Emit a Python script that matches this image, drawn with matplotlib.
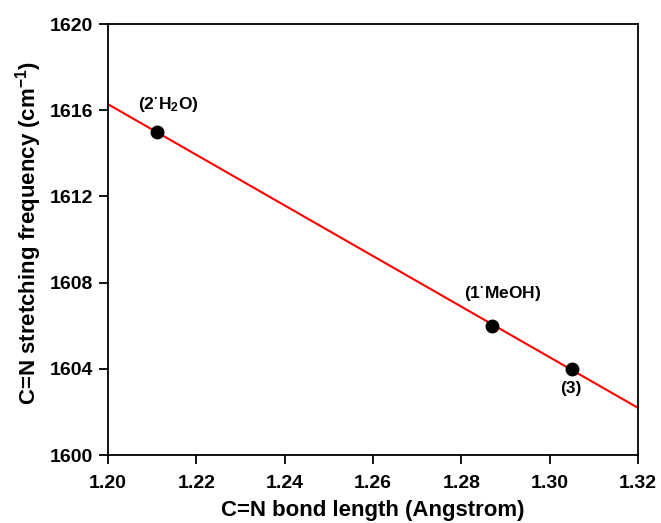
import numpy as np
import matplotlib
matplotlib.use("Agg")
import matplotlib.pyplot as plt

# data
bond_length = [1.211, 1.287, 1.305]
stretch_freq = [1615.0, 1606.0, 1604.0]
point_labels = ["(2$^{\u00b7}$H$_2$O)", "(1$^{\u00b7}$MeOH)", "(3)"]
label_pos = [(1.2136, 1616.25), (1.2894, 1607.5), (1.3048, 1603.1)]

xticks = [1.20, 1.22, 1.24, 1.26, 1.28, 1.30, 1.32]
yticks = [1600, 1604, 1608, 1612, 1616, 1620]

plt.rcParams["font.family"] = ["Liberation Sans", "DejaVu Sans"]
plt.rcParams["font.weight"] = "bold"
plt.rcParams["mathtext.default"] = "regular"

fig = plt.figure(figsize=(6.61, 5.23), dpi=100)
ax = fig.add_axes([0.1634, 0.130, 0.8018, 0.824])

# linear fit through the three points
slope, icpt = np.polyfit(bond_length, stretch_freq, 1)
xf = np.array([xticks[0], xticks[-1]])
ax.plot(xf, slope * xf + icpt, color="red", lw=1.5, zorder=2)

ax.plot(bond_length, stretch_freq, "o", color="black", ms=9, zorder=3)

for txt, (lx, ly) in zip(point_labels, label_pos):
    ax.text(lx, ly, txt, ha="center", va="center", fontsize=12.5, fontweight="bold")

ax.set_xlim(xticks[0], xticks[-1])
ax.set_ylim(yticks[0], yticks[-1])
ax.set_xticks(xticks)
ax.set_xticklabels([f"{t:.2f}" for t in xticks])
ax.set_yticks(yticks)
ax.tick_params(direction="out", length=6.5, width=1.3, labelsize=14)
ax.tick_params(axis="x", pad=8)
ax.tick_params(axis="y", pad=4)
for lab in ax.get_xticklabels() + ax.get_yticklabels():
    lab.set_fontweight("bold")
for sp in ax.spines.values():
    sp.set_linewidth(1.3)

ax.set_xlabel("C=N bond length (Angstrom)", fontsize=16, fontweight="bold", labelpad=6)
ax.set_ylabel("C=N stretching frequency (cm$^{-1}$)", fontsize=16, fontweight="bold")
ax.yaxis.set_label_coords(-0.121, 0.515)

fig.savefig("out.png", dpi=100)
